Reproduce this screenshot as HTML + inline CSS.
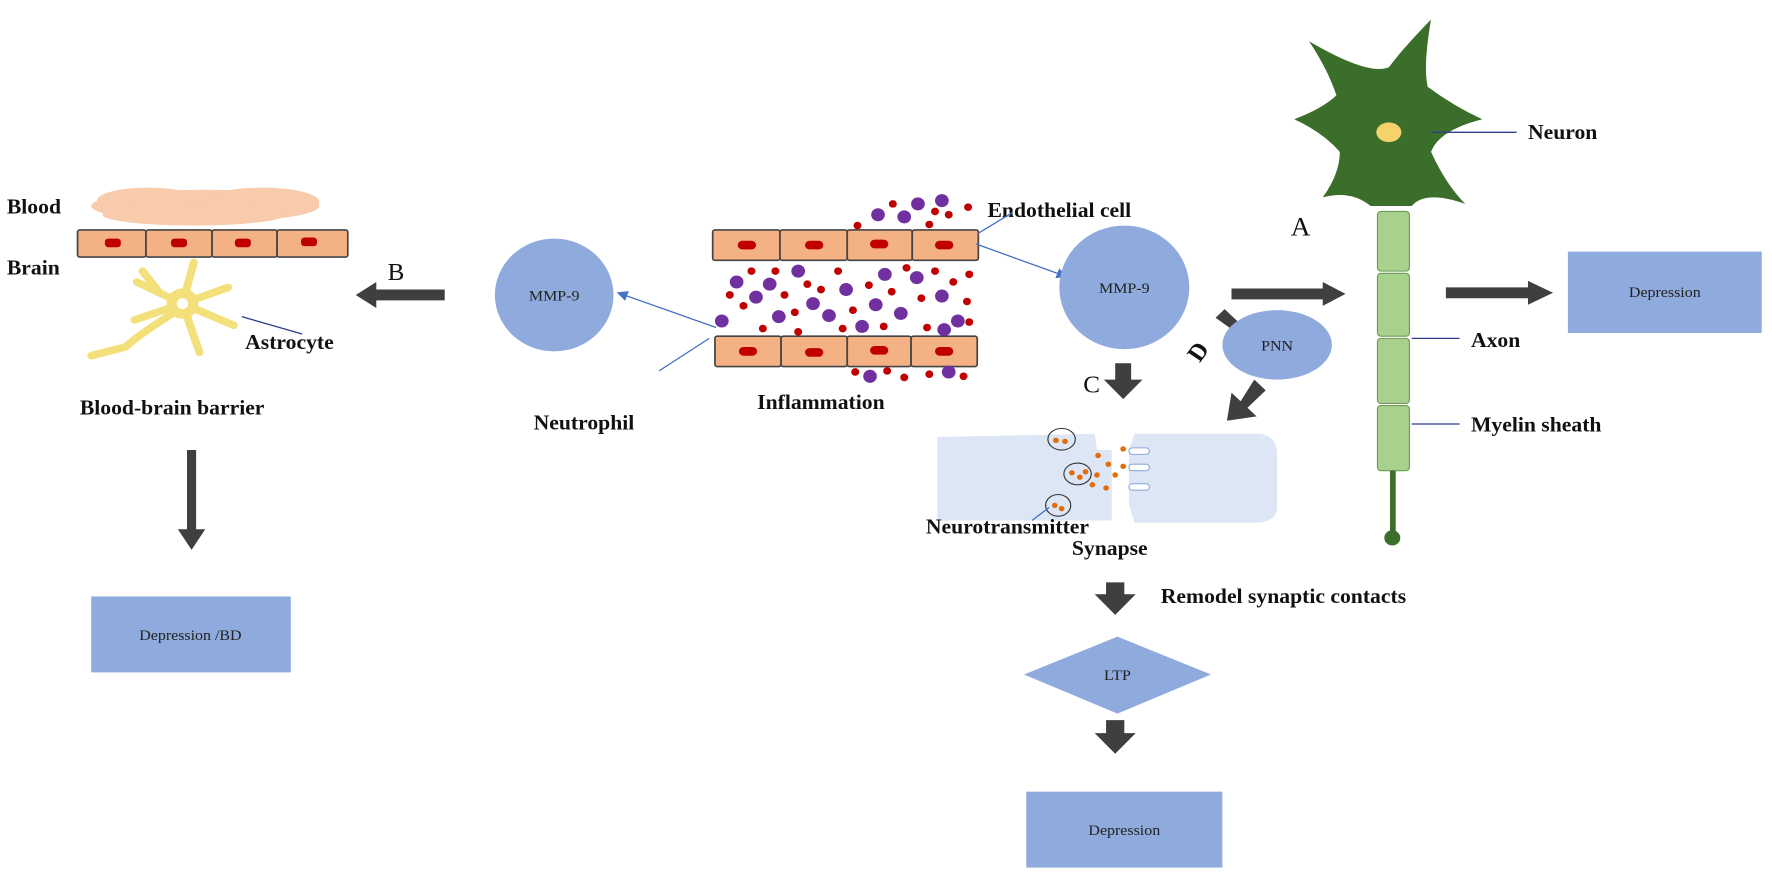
<!DOCTYPE html>
<html><head><meta charset="utf-8"><style>
html,body{margin:0;padding:0;background:#fff}
svg{display:block}
.t{font-family:"Liberation Serif",serif;font-weight:bold;font-size:19px;fill:#111}
.s{font-family:"Liberation Serif",serif;font-size:14px;fill:#222}
.cell{fill:#f4b183;stroke:#444;stroke-width:1.5}
.nuc{fill:#c00000}
.ar{fill:#3f3f3f}
</style></head><body>
<svg width="1772" height="873" viewBox="0 -10 1554 805" preserveAspectRatio="none" xmlns="http://www.w3.org/2000/svg">
<defs>
<marker id="bh" markerWidth="8" markerHeight="8" refX="7" refY="4" orient="auto"><path d="M0,0 L8,4 L0,8 z" fill="#4472c4"/></marker>
</defs>
<!-- Left BBB -->
<text class="t" x="6" y="187">Blood</text>
<text class="t" x="6" y="243">Brain</text>
<g fill="#f8cbad">
<ellipse cx="180" cy="180" rx="100" ry="15"/><ellipse cx="130" cy="175" rx="45" ry="12"/><ellipse cx="230" cy="176" rx="50" ry="13"/><ellipse cx="170" cy="188" rx="80" ry="10"/>
</g>
<g>
<rect class="cell" x="68" y="202" width="60" height="25" rx="2"/><rect class="cell" x="128" y="202" width="58" height="25" rx="2"/><rect class="cell" x="186" y="202" width="57" height="25" rx="2"/><rect class="cell" x="243" y="202" width="62" height="25" rx="2"/>
<rect class="nuc" x="92" y="210" width="14" height="8" rx="3"/><rect class="nuc" x="150" y="210" width="14" height="8" rx="3"/><rect class="nuc" x="206" y="210" width="14" height="8" rx="3"/><rect class="nuc" x="264" y="209" width="14" height="8" rx="3"/>
</g>
<g stroke="#f3e07a" stroke-width="7" stroke-linecap="round" fill="none">
<path d="M160,270 L170,232"/><path d="M160,270 L200,255"/><path d="M160,270 L205,290"/><path d="M160,270 L175,315"/><path d="M160,270 L120,250"/><path d="M160,270 L118,285"/><path d="M150,280 Q120,300 110,310 L80,318"/><path d="M140,260 L125,240"/>
</g>
<circle cx="160" cy="270" r="14" fill="#f3e07a"/><circle cx="160" cy="270" r="5" fill="#fff"/>
<line x1="212" y1="282" x2="265" y2="298" stroke="#2f3f8f" stroke-width="1.2"/>
<text class="t" x="215" y="312">Astrocyte</text>
<text class="t" x="70" y="372">Blood-brain barrier</text>
<text class="t" x="340" y="248" style="font-weight:normal;font-size:22px">B</text>
<path class="ar" d="M390,257 L330,257 L330,250 L312,262 L330,274 L330,267 L390,267 z"/>
<path class="ar" d="M164,405 L172,405 L172,478 L180,478 L168,497 L156,478 L164,478 z"/>
<rect x="80" y="540" width="175" height="70" fill="#8faadc"/>
<text class="s" x="167" y="580" text-anchor="middle">Depression /BD</text>
<!-- MMP-9 left -->
<circle cx="486" cy="262" r="52" fill="#8faadc"/>
<text class="s" x="486" y="267" text-anchor="middle">MMP-9</text>
<line x1="628" y1="292" x2="542" y2="260" stroke="#4472c4" stroke-width="1.2" marker-end="url(#bh)"/>
<line x1="578" y1="332" x2="622" y2="302" stroke="#4472c4" stroke-width="1.2"/>
<text class="t" x="468" y="386">Neutrophil</text>
<!-- Inflammation -->
<g>
<rect class="cell" x="625" y="202" width="59" height="28" rx="2"/><rect class="cell" x="684" y="202" width="59" height="28" rx="2"/><rect class="cell" x="743" y="202" width="57" height="28" rx="2"/><rect class="cell" x="800" y="202" width="58" height="28" rx="2"/>
<rect class="cell" x="627" y="300" width="58" height="28" rx="2"/><rect class="cell" x="685" y="300" width="58" height="28" rx="2"/><rect class="cell" x="743" y="300" width="56" height="28" rx="2"/><rect class="cell" x="799" y="300" width="58" height="28" rx="2"/>
<rect class="nuc" x="647" y="212" width="16" height="8" rx="4"/><rect class="nuc" x="706" y="212" width="16" height="8" rx="4"/><rect class="nuc" x="763" y="211" width="16" height="8" rx="4"/><rect class="nuc" x="820" y="212" width="16" height="8" rx="4"/>
<rect class="nuc" x="648" y="310" width="16" height="8" rx="4"/><rect class="nuc" x="706" y="311" width="16" height="8" rx="4"/><rect class="nuc" x="763" y="309" width="16" height="8" rx="4"/><rect class="nuc" x="820" y="310" width="16" height="8" rx="4"/>
</g>
<g fill="#7030a0">
<circle cx="770" cy="188" r="6"/><circle cx="793" cy="190" r="6"/><circle cx="805" cy="178" r="6"/><circle cx="826" cy="175" r="6"/>
<circle cx="633" cy="286" r="6"/><circle cx="646" cy="250" r="6"/><circle cx="663" cy="264" r="6"/><circle cx="675" cy="252" r="6"/><circle cx="700" cy="240" r="6"/><circle cx="713" cy="270" r="6"/><circle cx="727" cy="281" r="6"/><circle cx="742" cy="257" r="6"/><circle cx="756" cy="291" r="6"/><circle cx="768" cy="271" r="6"/><circle cx="776" cy="243" r="6"/><circle cx="790" cy="279" r="6"/><circle cx="804" cy="246" r="6"/><circle cx="826" cy="263" r="6"/><circle cx="840" cy="286" r="6"/><circle cx="828" cy="294" r="6"/><circle cx="683" cy="282" r="6"/>
<circle cx="763" cy="337" r="6"/><circle cx="832" cy="333" r="6"/>
</g>
<g fill="#c00000">
<circle cx="783" cy="178" r="3.5"/><circle cx="815" cy="197" r="3.5"/><circle cx="820" cy="185" r="3.5"/><circle cx="832" cy="188" r="3.5"/><circle cx="849" cy="181" r="3.5"/><circle cx="752" cy="198" r="3.5"/>
<circle cx="652" cy="272" r="3.5"/><circle cx="659" cy="240" r="3.5"/><circle cx="680" cy="240" r="3.5"/><circle cx="688" cy="262" r="3.5"/><circle cx="697" cy="278" r="3.5"/><circle cx="720" cy="257" r="3.5"/><circle cx="735" cy="240" r="3.5"/><circle cx="748" cy="276" r="3.5"/><circle cx="762" cy="253" r="3.5"/><circle cx="782" cy="259" r="3.5"/><circle cx="795" cy="237" r="3.5"/><circle cx="808" cy="265" r="3.5"/><circle cx="813" cy="292" r="3.5"/><circle cx="820" cy="240" r="3.5"/><circle cx="836" cy="250" r="3.5"/><circle cx="848" cy="268" r="3.5"/><circle cx="850" cy="243" r="3.5"/><circle cx="850" cy="287" r="3.5"/><circle cx="669" cy="293" r="3.5"/><circle cx="700" cy="296" r="3.5"/><circle cx="739" cy="293" r="3.5"/><circle cx="640" cy="262" r="3.5"/><circle cx="708" cy="252" r="3.5"/><circle cx="775" cy="291" r="3.5"/>
<circle cx="750" cy="333" r="3.5"/><circle cx="778" cy="332" r="3.5"/><circle cx="793" cy="338" r="3.5"/><circle cx="815" cy="335" r="3.5"/><circle cx="845" cy="337" r="3.5"/>
</g>
<text class="t" x="664" y="367">Inflammation</text>
<text class="t" x="866" y="190">Endothelial cell</text>
<line x1="858" y1="205" x2="888" y2="186" stroke="#4472c4" stroke-width="1.2"/>
<line x1="856" y1="215" x2="935" y2="245" stroke="#4472c4" stroke-width="1.2" marker-end="url(#bh)"/>
<!-- MMP-9 right -->
<circle cx="986" cy="255" r="57" fill="#8faadc"/>
<text class="s" x="986" y="260" text-anchor="middle">MMP-9</text>
<text class="t" x="1132" y="207" style="font-weight:normal;font-size:24px">A</text>
<path class="ar" d="M1080,256 L1160,256 L1160,250 L1180,261 L1160,272 L1160,266 L1080,266 z"/>
<!-- D -->
<text class="t" x="0" y="0" transform="translate(1052,325) rotate(-55)" style="font-size:22px">D</text>
<path class="ar" d="M1066,283 L1074,275 L1088,289 L1094,283 L1098,305 L1076,301 L1082,295 z"/>
<ellipse cx="1120" cy="308" rx="48" ry="32" fill="#8faadc"/>
<text class="s" x="1120" y="313" text-anchor="middle">PNN</text>
<path class="ar" d="M1100,340 L1110,350 L1094,366 L1102,374 L1076,378 L1080,352 L1088,360 z"/>
<text class="t" x="950" y="352" style="font-weight:normal;font-size:22px">C</text>
<path class="ar" d="M978,325 L992,325 L992,340 L1002,340 L985,358 L968,340 L978,340 z"/>
<!-- Synapse -->
<path d="M822,393 L960,390 L962,405 L975,405 L975,470 L822,470 z" fill="#dde6f4"/>
<path d="M995,390 L1105,390 Q1120,392 1120,410 L1120,460 Q1118,472 1100,472 L995,472 L990,455 L990,405 z" fill="#dde6f4"/>
<g fill="none" stroke="#333" stroke-width="1">
<ellipse cx="931" cy="395" rx="12" ry="10"/><ellipse cx="945" cy="427" rx="12" ry="10"/><ellipse cx="928" cy="456" rx="11" ry="10"/>
</g>
<g fill="#fff" stroke="#8faadc"><rect x="990" y="403" width="18" height="6" rx="3"/><rect x="990" y="418" width="18" height="6" rx="3"/><rect x="990" y="436" width="18" height="6" rx="3"/></g>
<g fill="#e46c0a">
<circle cx="926" cy="396" r="2.5"/><circle cx="934" cy="397" r="2.5"/><circle cx="940" cy="426" r="2.5"/><circle cx="947" cy="430" r="2.5"/><circle cx="952" cy="425" r="2.5"/><circle cx="925" cy="456" r="2.5"/><circle cx="931" cy="459" r="2.5"/>
<circle cx="963" cy="410" r="2.5"/><circle cx="972" cy="418" r="2.5"/><circle cx="962" cy="428" r="2.5"/><circle cx="978" cy="428" r="2.5"/><circle cx="970" cy="440" r="2.5"/><circle cx="985" cy="404" r="2.5"/><circle cx="985" cy="420" r="2.5"/><circle cx="958" cy="437" r="2.5"/>
</g>
<line x1="905" y1="470" x2="920" y2="458" stroke="#4472c4" stroke-width="1.2"/>
<text class="t" x="812" y="482">Neurotransmitter</text>
<text class="t" x="940" y="502">Synapse</text>
<path class="ar" d="M970,527 L986,527 L986,538 L996,538 L978,557 L960,538 L970,538 z"/>
<text class="t" x="1018" y="546">Remodel synaptic contacts</text>
<polygon points="898,612 980,577 1062,612 980,648" fill="#8faadc"/>
<text class="s" x="980" y="617" text-anchor="middle">LTP</text>
<path class="ar" d="M970,654 L986,654 L986,666 L996,666 L978,685 L960,666 L970,666 z"/>
<rect x="900" y="720" width="172" height="70" fill="#8faadc"/>
<text class="s" x="986" y="760" text-anchor="middle">Depression</text>
<!-- Neuron -->
<path d="M1148,28 Q1200,60 1218,52 Q1230,35 1255,8 Q1248,50 1252,70 Q1275,88 1300,100 Q1262,110 1255,130 Q1268,160 1285,178 Q1250,165 1238,180 L1202,180 Q1185,165 1160,172 Q1175,150 1175,130 Q1160,112 1135,100 Q1160,90 1172,78 Q1165,55 1148,28 z" fill="#3b6e2a"/>
<ellipse cx="1218" cy="112" rx="11" ry="9" fill="#f5d26b"/>
<g fill="#a9d18e" stroke="#6d9a55" stroke-width="1">
<rect x="1208" y="185" width="28" height="55" rx="3"/><rect x="1208" y="242" width="28" height="58" rx="3"/><rect x="1208" y="302" width="28" height="60" rx="3"/><rect x="1208" y="364" width="28" height="60" rx="3"/>
</g>
<rect x="1219" y="424" width="5" height="60" fill="#3b6e2a"/>
<circle cx="1221" cy="486" r="7" fill="#3b6e2a"/>
<line x1="1255" y1="112" x2="1330" y2="112" stroke="#2f3f8f" stroke-width="1.2"/>
<text class="t" x="1340" y="118">Neuron</text>
<line x1="1238" y1="302" x2="1280" y2="302" stroke="#2f3f8f" stroke-width="1.2"/>
<text class="t" x="1290" y="310">Axon</text>
<line x1="1238" y1="381" x2="1280" y2="381" stroke="#2f3f8f" stroke-width="1.2"/>
<text class="t" x="1290" y="388">Myelin sheath</text>
<path class="ar" d="M1268,255 L1340,255 L1340,249 L1362,260 L1340,271 L1340,265 L1268,265 z"/>
<rect x="1375" y="222" width="170" height="75" fill="#8faadc"/>
<text class="s" x="1460" y="264" text-anchor="middle">Depression</text>
</svg>
</body></html>
